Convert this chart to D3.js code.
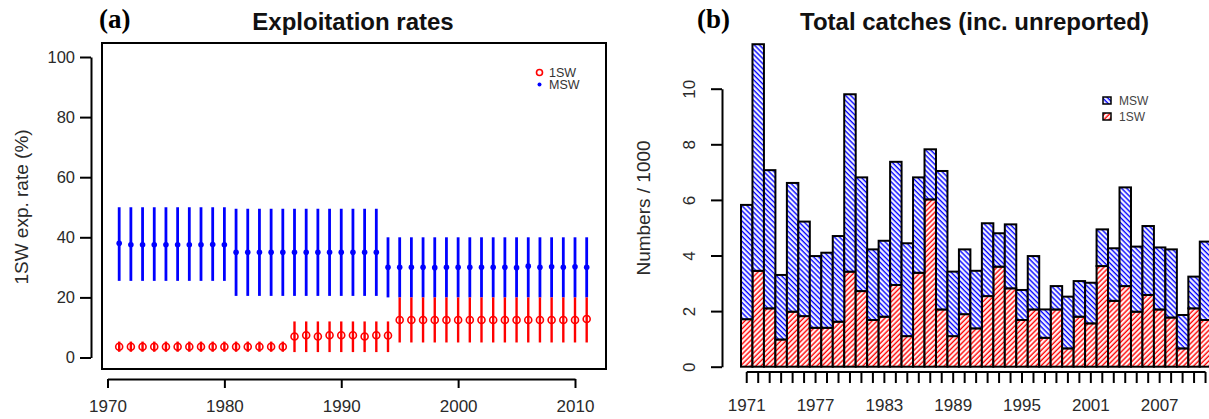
<!DOCTYPE html>
<html lang="en">
<head>
<meta charset="UTF-8" />
<title>Exploitation rates / Total catches</title>
<style>
  body { margin: 0; background: #fff; }
  svg { display: block; font-family: "Liberation Sans", Arial, sans-serif; }
  .axis path, .axis line { stroke: #000; stroke-width: 2; fill: none; }
  .axis text { fill: #2a2a2a; }
</style>
</head>
<body>
<svg id="chart" width="1209" height="419"></svg>
<script src="https://d3js.org/d3.v7.min.js"></script>
<script>
// ---- panel (a) data: exploitation rates (%) 1971-2011
const rateYears = [1971, 1972, 1973, 1974, 1975, 1976, 1977, 1978, 1979, 1980,
  1981, 1982, 1983, 1984, 1985, 1986, 1987, 1988, 1989, 1990,
  1991, 1992, 1993, 1994, 1995, 1996, 1997, 1998, 1999, 2000,
  2001, 2002, 2003, 2004, 2005, 2006, 2007, 2008, 2009, 2010, 2011];

const rate1SW = [3.6, 3.6, 3.6, 3.6, 3.6, 3.6, 3.6, 3.6, 3.6, 3.6,
  3.6, 3.6, 3.6, 3.6, 3.6, 7.0, 7.4, 7.0, 7.4, 7.4,
  7.4, 7.0, 7.4, 7.3, 12.5, 12.5, 12.5, 12.5, 12.5, 12.5,
  12.5, 12.5, 12.5, 12.5, 12.5, 12.5, 12.5, 12.5, 12.5, 12.5, 12.8];
const rate1SWlo = [1.9, 1.9, 1.9, 1.9, 1.9, 1.9, 1.9, 1.9, 1.9, 1.9,
  1.9, 1.9, 1.9, 1.9, 1.9, 1.8, 1.8, 1.8, 1.8, 1.8,
  1.8, 1.8, 1.8, 1.8, 5.0, 5.0, 5.0, 5.0, 5.0, 5.0,
  5.0, 5.0, 5.0, 5.0, 5.0, 5.0, 5.0, 5.0, 5.0, 5.0, 5.0];
const rate1SWhi = [5.3, 5.3, 5.3, 5.3, 5.3, 5.3, 5.3, 5.3, 5.3, 5.3,
  5.3, 5.3, 5.3, 5.3, 5.3, 12.0, 12.0, 12.0, 12.0, 12.0,
  12.0, 12.0, 12.0, 12.0, 20.0, 20.0, 20.0, 20.0, 20.0, 20.0,
  20.0, 20.0, 20.0, 20.0, 20.0, 20.0, 20.0, 20.0, 20.0, 20.0, 20.0];

const rateMSW = [38.0, 37.5, 37.5, 37.5, 37.5, 37.5, 37.5, 37.5, 37.6, 37.5,
  35.0, 35.0, 35.0, 35.0, 35.0, 35.0, 35.0, 35.0, 35.0, 35.0,
  35.0, 35.0, 35.0, 30.0, 30.0, 30.0, 30.0, 29.9, 30.0, 30.0,
  30.0, 30.0, 30.0, 30.0, 29.9, 30.4, 30.0, 30.2, 30.0, 30.2, 30.0];
const rateMSWlo = [25.5, 25.5, 25.5, 25.5, 25.5, 25.5, 25.5, 25.5, 25.5, 25.5,
  20.5, 20.5, 20.5, 20.5, 20.5, 20.5, 20.5, 20.5, 20.5, 20.5,
  20.5, 20.5, 20.5, 20.0, 20.0, 20.0, 20.0, 20.0, 20.0, 20.0,
  20.0, 20.0, 20.0, 20.0, 20.0, 20.0, 20.0, 20.0, 20.0, 20.0, 20.0];
const rateMSWhi = [50.0, 50.0, 50.0, 50.0, 50.0, 50.0, 50.0, 50.0, 50.0, 50.0,
  49.5, 49.5, 49.5, 49.5, 49.5, 49.5, 49.5, 49.5, 49.5, 49.5,
  49.5, 49.5, 49.5, 40.0, 40.0, 40.0, 40.0, 40.0, 40.0, 40.0,
  40.0, 40.0, 40.0, 40.0, 40.0, 40.0, 40.0, 40.0, 40.0, 40.0, 40.0];

const rateXTicks = [1970, 1980, 1990, 2000, 2010];
const rateYTicks = [0, 20, 40, 60, 80, 100];

// ---- panel (b) data: total catches (numbers / 1000)
const catchYears = rateYears;
const catch1SW = [1.71, 3.45, 2.10, 0.98, 1.98, 1.82, 1.40, 1.40, 1.62, 3.42,
  2.72, 1.68, 1.80, 2.94, 1.10, 3.38, 6.02, 2.06, 1.10, 1.89,
  1.38, 2.54, 3.60, 2.82, 1.68, 2.06, 1.04, 2.06, 0.66, 1.80,
  1.56, 3.62, 2.37, 2.90, 1.98, 2.58, 2.06, 1.77, 0.66, 2.10, 1.68];
const catchMSW = [4.11, 8.15, 4.97, 2.32, 4.63, 3.40, 2.58, 2.70, 3.08, 6.38,
  4.09, 2.54, 2.73, 4.43, 3.34, 3.43, 1.80, 4.98, 2.32, 2.33,
  2.07, 2.62, 1.20, 2.30, 1.08, 1.92, 1.02, 0.84, 1.86, 1.28,
  1.46, 1.32, 1.89, 3.55, 2.34, 2.48, 2.23, 2.45, 1.20, 1.14, 2.82];
const catchXLabels = [1971, 1977, 1983, 1989, 1995, 2001, 2007];
const catchYTicks = [0, 2, 4, 6, 8, 10];

const svg = d3.select("#chart");

// hatch patterns (R density/angle look)
const defs = svg.append("defs");
const hatch = (id, color, angle) => {
  const p = defs.append("pattern")
    .attr("id", id)
    .attr("patternUnits", "userSpaceOnUse")
    .attr("width", 3.6)
    .attr("height", 3.6)
    .attr("patternTransform", `rotate(${angle})`);
  p.append("rect").attr("width", 3.6).attr("height", 3.6).attr("fill", "#fff");
  p.append("line")
    .attr("x1", 1.2).attr("y1", 0).attr("x2", 1.2).attr("y2", 3.6)
    .attr("stroke", color).attr("stroke-width", 1.45);
};
hatch("hatchMSW", "#0000ff", -45);
hatch("hatch1SW", "#ff0000", 45);

// ================= panel (a) =================
const xA = d3.scaleLinear().domain([1970, 2010]).range([107.5, 575]);
const yA = d3.scaleLinear().domain([0, 100]).range([357.5, 57]);

svg.append("rect")
  .attr("x", 102).attr("y", 43).attr("width", 504).attr("height", 326)
  .attr("fill", "none").attr("stroke", "#000").attr("stroke-width", 2);

const gxA = svg.append("g").attr("class", "axis")
  .attr("transform", "translate(0,379)")
  .call(d3.axisBottom(xA).tickValues(rateXTicks).tickFormat(d3.format("d"))
    .tickSize(9).tickSizeOuter(0).tickPadding(12));
gxA.attr("font-family", null);
gxA.selectAll("text").attr("font-size", 17);

const gyA = svg.append("g").attr("class", "axis")
  .attr("transform", "translate(91,0)")
  .call(d3.axisLeft(yA).tickValues(rateYTicks).tickSize(11).tickSizeOuter(0).tickPadding(5));
gyA.attr("font-family", null);
gyA.selectAll("text").attr("font-size", 16.5);

svg.append("text")
  .attr("transform", "translate(28,207) rotate(-90)")
  .attr("text-anchor", "middle").attr("font-size", 19).attr("fill", "#2a2a2a")
  .text("1SW exp. rate (%)");

const rows = rateYears.map((yr, i) => ({
  yr,
  s1: rate1SW[i], s1lo: rate1SWlo[i], s1hi: rate1SWhi[i],
  m: rateMSW[i], mlo: rateMSWlo[i], mhi: rateMSWhi[i]
}));

const msw = svg.append("g");
msw.selectAll("line").data(rows).join("line")
  .attr("x1", d => xA(d.yr)).attr("x2", d => xA(d.yr))
  .attr("y1", d => yA(d.mlo)).attr("y2", d => yA(d.mhi))
  .attr("stroke", "#0000ff").attr("stroke-width", 2.8);
msw.selectAll("circle").data(rows).join("circle")
  .attr("cx", d => xA(d.yr)).attr("cy", d => yA(d.m)).attr("r", 2.8)
  .attr("fill", "#0000ff");

const one = svg.append("g");
one.selectAll("line").data(rows).join("line")
  .attr("x1", d => xA(d.yr)).attr("x2", d => xA(d.yr))
  .attr("y1", d => yA(d.s1lo)).attr("y2", d => yA(d.s1hi))
  .attr("stroke", "#ff0000").attr("stroke-width", 2.4);
one.selectAll("circle").data(rows).join("circle")
  .attr("cx", d => xA(d.yr)).attr("cy", d => yA(d.s1)).attr("r", 3.5)
  .attr("fill", "none").attr("stroke", "#ff0000").attr("stroke-width", 1.6);

// legend (a)
svg.append("circle").attr("cx", 539.5).attr("cy", 72.5).attr("r", 3)
  .attr("fill", "none").attr("stroke", "#ff0000").attr("stroke-width", 1.6);
svg.append("circle").attr("cx", 539.5).attr("cy", 84.5).attr("r", 2)
  .attr("fill", "#0000ff");
svg.append("text").attr("x", 549).attr("y", 76.5).attr("font-size", 12.5).attr("fill", "#333").text("1SW");
svg.append("text").attr("x", 549).attr("y", 88.5).attr("font-size", 12.5).attr("fill", "#333").text("MSW");

svg.append("text").attr("x", 353).attr("y", 30).attr("text-anchor", "middle")
  .attr("font-size", 24).attr("font-weight", "bold").attr("fill", "#111")
  .text("Exploitation rates");
svg.append("text").attr("x", 99).attr("y", 28)
  .attr("font-family", "'Liberation Serif', 'Times New Roman', serif")
  .attr("font-size", 27).attr("font-weight", "bold").attr("fill", "#000")
  .text("(a)");

// ================= panel (b) =================
const xB = d3.scaleBand().domain(catchYears).range([741, 741 + 41 * 11.47]).padding(0);
const yB = d3.scaleLinear().domain([0, 10]).range([366.7, 88.7]);

const stacked = d3.stack().keys(["one", "msw"])(
  catchYears.map((yr, i) => ({ yr, one: catch1SW[i], msw: catchMSW[i] }))
);
const fills = { one: "url(#hatch1SW)", msw: "url(#hatchMSW)" };

svg.append("g").selectAll("g").data(stacked).join("g")
  .attr("fill", d => fills[d.key])
  .selectAll("rect").data(d => d).join("rect")
  .attr("x", d => xB(d.data.yr))
  .attr("width", xB.bandwidth())
  .attr("y", d => yB(d[1]))
  .attr("height", d => yB(d[0]) - yB(d[1]))
  .attr("stroke", "#000").attr("stroke-width", 2);

const gxB = svg.append("g").attr("class", "axis")
  .attr("transform", "translate(0,372)")
  .call(d3.axisBottom(xB).tickValues(catchYears)
    .tickFormat(d => catchXLabels.includes(d) ? d : "")
    .tickSize(11).tickSizeOuter(0).tickPadding(16));
gxB.attr("font-family", null);
gxB.select(".domain").remove();
gxB.append("line")
  .attr("x1", xB(catchYears[0]) + xB.bandwidth() / 2)
  .attr("x2", xB(catchYears[catchYears.length - 1]) + xB.bandwidth() / 2)
  .attr("y1", 0).attr("y2", 0);
gxB.selectAll("text").attr("font-size", 17);

const gyB = svg.append("g").attr("class", "axis")
  .attr("transform", "translate(722,0)")
  .call(d3.axisLeft(yB).tickValues(catchYTicks).tickSize(11).tickSizeOuter(0));
gyB.attr("font-family", null);
gyB.selectAll("text")
  .attr("x", null).attr("dy", null)
  .attr("text-anchor", "middle")
  .attr("transform", "translate(-27,0) rotate(-90)")
  .attr("font-size", 17);

svg.append("text")
  .attr("transform", "translate(650,208) rotate(-90)")
  .attr("text-anchor", "middle").attr("font-size", 19).attr("fill", "#2a2a2a")
  .text("Numbers / 1000");

// legend (b)
const legB = [["MSW", "url(#hatchMSW)", 97], ["1SW", "url(#hatch1SW)", 113]];
legB.forEach(([label, f, y]) => {
  svg.append("rect").attr("x", 1103).attr("y", y).attr("width", 8).attr("height", 7)
    .attr("fill", f).attr("stroke", "#000").attr("stroke-width", 1.5);
  svg.append("text").attr("x", 1119).attr("y", y + 7.5).attr("font-size", 12)
    .attr("fill", "#444").text(label);
});

svg.append("text").attr("x", 974.5).attr("y", 30).attr("text-anchor", "middle")
  .attr("font-size", 24).attr("font-weight", "bold").attr("fill", "#111")
  .text("Total catches (inc. unreported)");
svg.append("text").attr("x", 697).attr("y", 28)
  .attr("font-family", "'Liberation Serif', 'Times New Roman', serif")
  .attr("font-size", 27).attr("font-weight", "bold").attr("fill", "#000")
  .text("(b)");
</script>
</body>
</html>
